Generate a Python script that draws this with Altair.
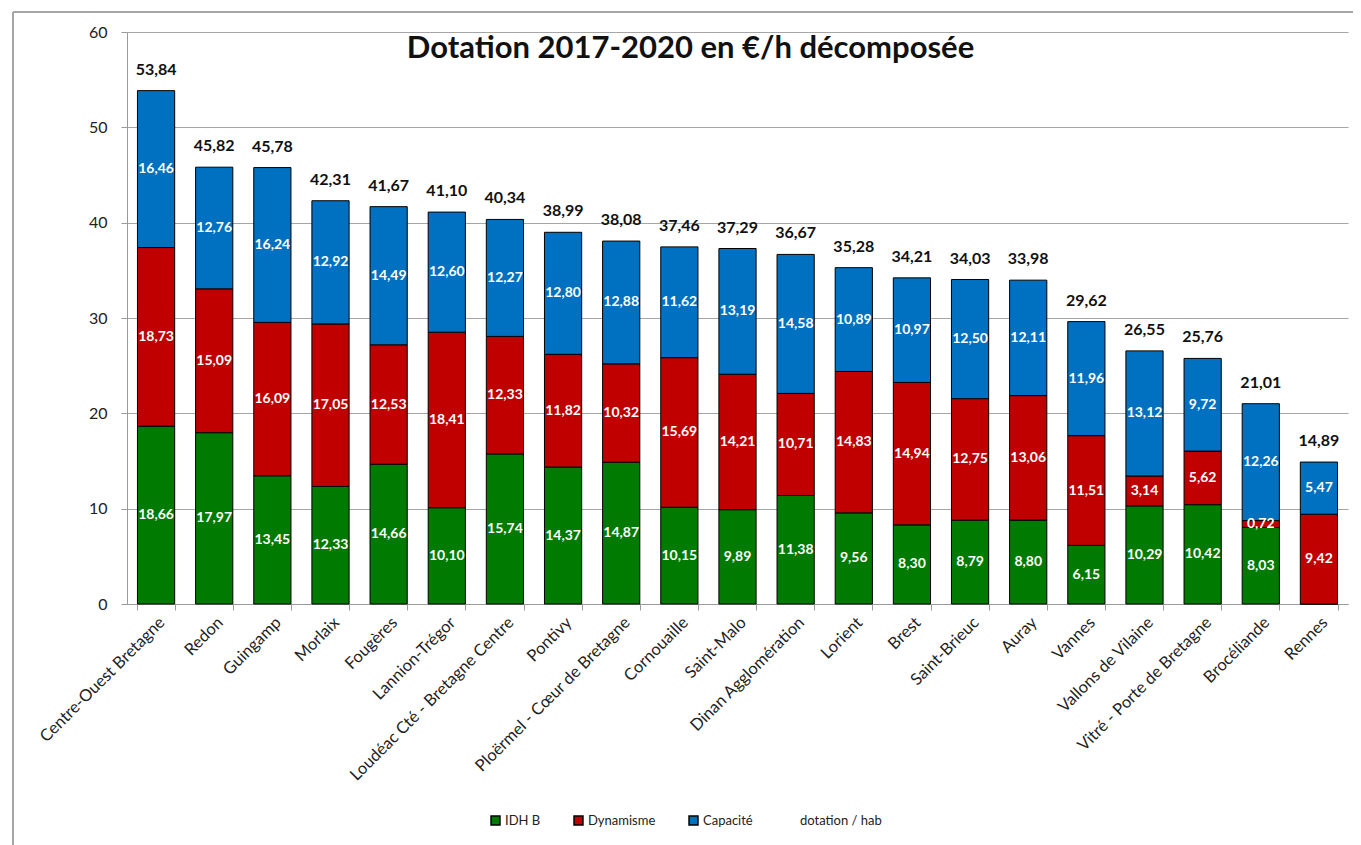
import altair as alt
import pandas as pd

communes = ["Centre-Ouest Bretagne", "Redon", "Guingamp", "Morlaix", "Fougères", "Lannion-Trégor",
            "Loudéac Cté - Bretagne Centre", "Pontivy", "Ploërmel - Cœur de Bretagne", "Cornouaille",
            "Saint-Malo", "Dinan Agglomération", "Lorient", "Brest", "Saint-Brieuc", "Auray", "Vannes",
            "Vallons de Vilaine", "Vitré - Porte de Bretagne", "Brocéliande", "Rennes"]
idh = [18.66, 17.97, 13.45, 12.33, 14.66, 10.10, 15.74, 14.37, 14.87, 10.15, 9.89, 11.38, 9.56, 8.30,
       8.79, 8.80, 6.15, 10.29, 10.42, 8.03, 0.0]
dyn = [18.73, 15.09, 16.09, 17.05, 12.53, 18.41, 12.33, 11.82, 10.32, 15.69, 14.21, 10.71, 14.83, 14.94,
       12.75, 13.06, 11.51, 3.14, 5.62, 0.72, 9.42]
cap = [16.46, 12.76, 16.24, 12.92, 14.49, 12.60, 12.27, 12.80, 12.88, 11.62, 13.19, 14.58, 10.89, 10.97,
       12.50, 12.11, 11.96, 13.12, 9.72, 12.26, 5.47]
totals = [53.84, 45.82, 45.78, 42.31, 41.67, 41.10, 40.34, 38.99, 38.08, 37.46, 37.29, 36.67, 35.28,
          34.21, 34.03, 33.98, 29.62, 26.55, 25.76, 21.01, 14.89]

series = ["IDH B", "Dynamisme", "Capacité"]
legend_domain = series + ["dotation / hab"]
fills = ["#007A00", "#C00000", "#0070C0", "transparent"]
strokes = ["#000000", "#000000", "#000000", "transparent"]


def fmt(v):
    return f"{v:.2f}".replace(".", ",")


rows = []
for i, c in enumerate(communes):
    for k, (s, vals) in enumerate(zip(series, [idh, dyn, cap])):
        rows.append({"commune": c, "serie": s, "ord": k, "value": vals[i], "label": fmt(vals[i])})
df = pd.DataFrame(rows)
tot = pd.DataFrame({"commune": communes, "total": totals, "label": [fmt(t) for t in totals]})

FONT = "Lato"

x = alt.X("commune:N", sort=communes, title=None,
          scale=alt.Scale(paddingInner=0.36, paddingOuter=0.18),
          axis=alt.Axis(labelAngle=-45, labelFontSize=16.5, labelColor="#222222", labelFont=FONT,
                        tickBand="extent", tickColor="#9a9a9a", tickSize=6, domainColor="#9a9a9a",
                        labelPadding=4, labelLimit=500))

legend_kw = dict(title=None, orient="none", direction="horizontal", legendX=362, legendY=782,
                 symbolType="square", symbolSize=80, labelFontSize=13, labelFont=FONT,
                 labelColor="#222222", columnPadding=30, symbolStrokeWidth=1.5, labelOffset=3)

base = alt.Chart(df)

bars = base.mark_bar(strokeWidth=1).encode(
    x=x,
    y=alt.Y("value:Q", stack="zero", title=None,
            scale=alt.Scale(domain=[0, 60], nice=False),
            axis=alt.Axis(values=[0, 10, 20, 30, 40, 50, 60], labelFontSize=16, labelFont=FONT,
                          labelColor="#222222", gridColor="#a6a6a6", domainColor="#9a9a9a",
                          tickColor="#9a9a9a", tickSize=6, labelPadding=14)),
    fill=alt.Fill("serie:N", scale=alt.Scale(domain=legend_domain, range=fills),
                  legend=alt.Legend(**legend_kw)),
    stroke=alt.Stroke("serie:N", scale=alt.Scale(domain=legend_domain, range=strokes),
                      legend=alt.Legend(**legend_kw)),
    order=alt.Order("ord:Q"),
)

seg_labels = base.transform_filter("datum.value > 0").transform_stack(
    stack="value", groupby=["commune"], sort=[alt.SortField("ord")], as_=["y0", "y1"]
).transform_calculate(mid="(datum.y0 + datum.y1) / 2").mark_text(
    color="white", fontWeight="bold", fontSize=14, font=FONT
).encode(x=x, y=alt.Y("mid:Q"), text="label:N")

tot_labels = alt.Chart(tot).mark_text(
    color="#111111", fontWeight="bold", fontSize=16, font=FONT, baseline="middle", dy=-21
).encode(x=x, y=alt.Y("total:Q"), text="label:N")

# chart-area frame (top and left edges visible in the reference)
frame_top = alt.Chart(tot).mark_rule(color="#a6a6a6", strokeWidth=2).encode(
    x=alt.value(-114), x2=alt.value(1240), y=alt.value(-20))
frame_left = alt.Chart(tot).mark_rule(color="#a6a6a6", strokeWidth=2).encode(
    x=alt.value(-114), y=alt.value(-20), y2=alt.value(840))

chart = alt.layer(frame_top, frame_left, bars, seg_labels, tot_labels).properties(
    width=1221, height=572,
    title=alt.TitleParams("Dotation 2017-2020 en €/h décomposée", font=FONT, fontSize=31,
                          fontWeight="bold", color="#111111", anchor="middle", dy=58, dx=-47),
    autosize=alt.AutoSizeParams(type="none"),
    padding={"left": 119, "top": 24, "right": 5, "bottom": 260},
).configure_view(stroke=None).configure_axis(grid=False).configure_axisY(grid=True)

chart.save("out.html", embed_options={"renderer": "svg", "actions": False})
